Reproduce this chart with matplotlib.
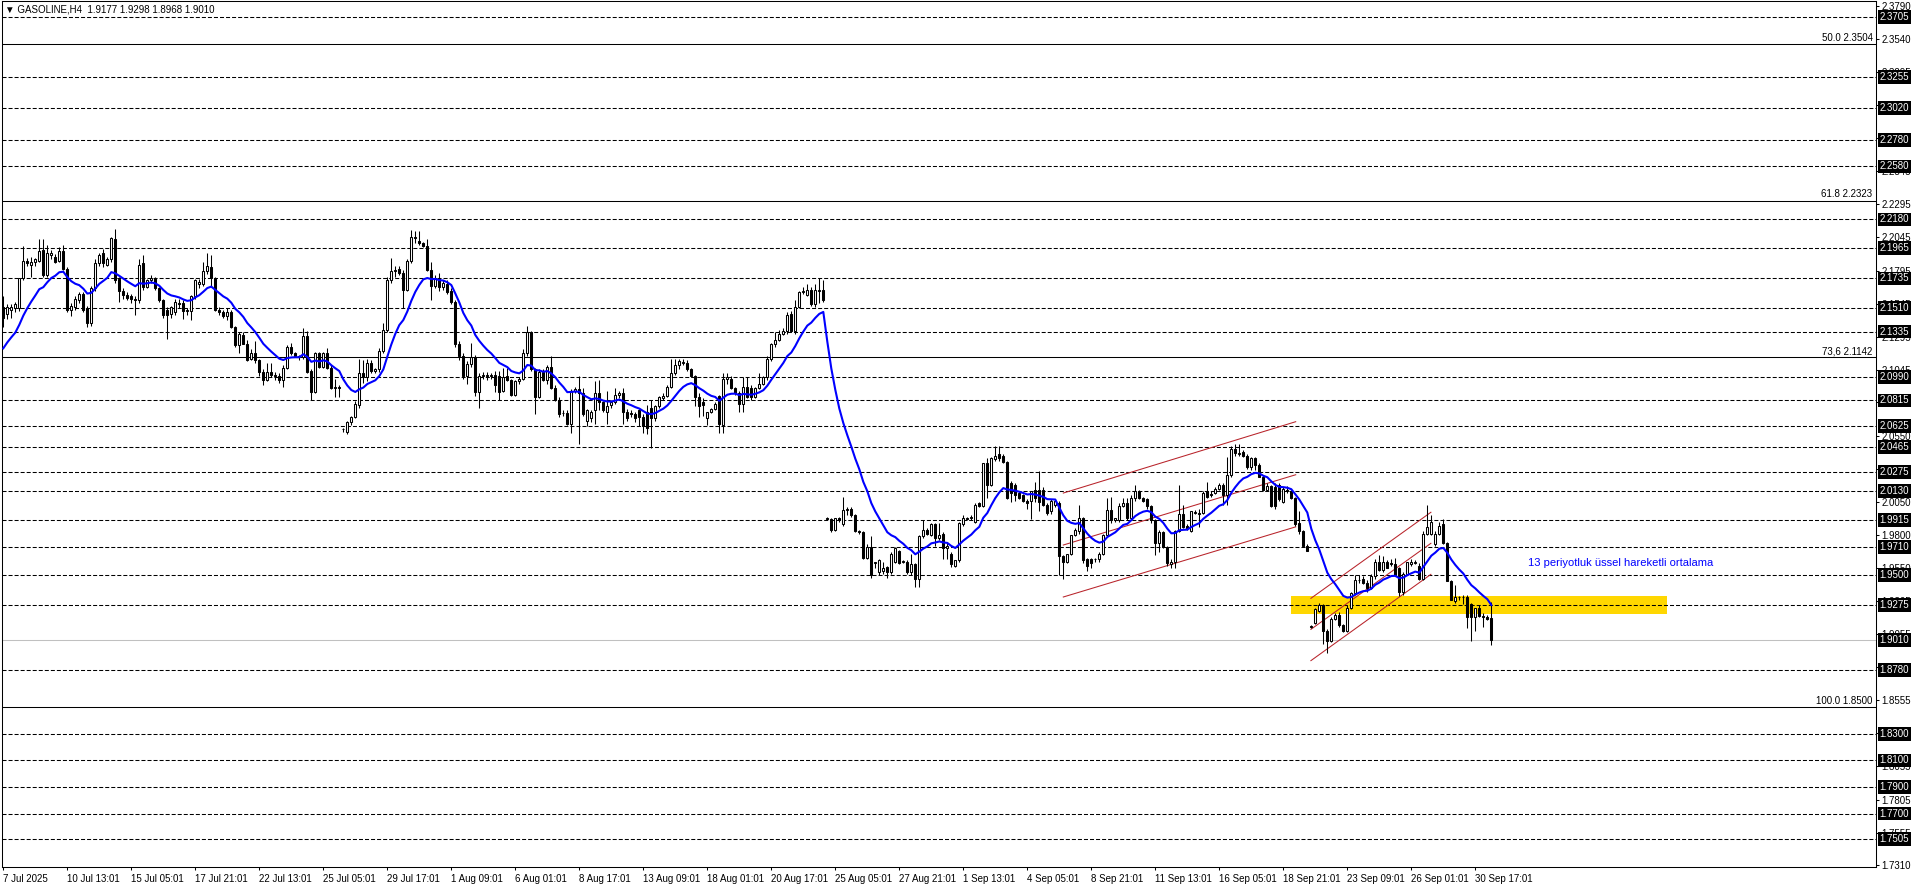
import numpy as np
import matplotlib
matplotlib.use('Agg')
import matplotlib.pyplot as plt
from matplotlib.patches import Rectangle

plt.rcParams['font.family'] = ['Liberation Sans', 'DejaVu Sans']
plt.rcParams['lines.scale_dashes'] = False

# ---------------- data (H4 candles, GASOLINE) ----------------
opens = [
 2.152, 2.147, 2.150, 2.151, 2.151, 2.174, 2.187, 2.184, 2.186, 2.187,
 2.195, 2.176, 2.191, 2.190, 2.187, 2.194, 2.181, 2.150, 2.152, 2.157,
 2.162, 2.151, 2.140, 2.166, 2.185, 2.193, 2.184, 2.188, 2.203, 2.173,
 2.164, 2.161, 2.160, 2.158, 2.157, 2.185, 2.167, 2.172, 2.174, 2.166,
 2.157, 2.150, 2.147, 2.148, 2.155, 2.155, 2.149, 2.149, 2.160, 2.169,
 2.169, 2.179, 2.182, 2.174, 2.150, 2.148, 2.145, 2.148, 2.137, 2.123,
 2.131, 2.124, 2.113, 2.117, 2.112, 2.103, 2.097, 2.103, 2.101, 2.100,
 2.097, 2.106, 2.122, 2.117, 2.115, 2.114, 2.130, 2.104, 2.088, 2.117,
 2.107, 2.117, 2.106, 2.091, 2.092, 2.060, 2.058, 2.065, 2.069, 2.078,
 2.102, 2.099, 2.110, 2.104, 2.105, 2.119, 2.135, 2.172, 2.179, 2.181,
 2.178, 2.165, 2.187, 2.205, 2.202, 2.200, 2.198, 2.180, 2.168, 2.174,
 2.167, 2.169, 2.164, 2.156, 2.124, 2.115, 2.100, 2.109, 2.114, 2.088,
 2.100, 2.101, 2.100, 2.101, 2.100, 2.089, 2.100, 2.097, 2.086, 2.096,
 2.098, 2.117, 2.133, 2.105, 2.084, 2.103, 2.097, 2.107, 2.091, 2.082,
 2.072, 2.072, 2.064, 2.089, 2.090, 2.087, 2.066, 2.068, 2.074, 2.087,
 2.080, 2.073, 2.078, 2.080, 2.086, 2.087, 2.073, 2.072, 2.071, 2.074,
 2.069, 2.073, 2.076, 2.068, 2.077, 2.083, 2.085, 2.092, 2.102, 2.108,
 2.110, 2.110, 2.105, 2.100, 2.084, 2.080, 2.068, 2.073, 2.075, 2.085,
 2.063, 2.098, 2.098, 2.091, 2.087, 2.079, 2.092, 2.091, 2.084, 2.091,
 2.094, 2.099, 2.113, 2.124, 2.127, 2.132, 2.134, 2.147, 2.134, 2.152,
 2.163, 2.161, 2.165, 2.154, 2.164, 2.165, 1.993, 1.992, 1.984, 1.993,
 1.988, 1.999, 2.000, 1.995, 1.983, 1.982, 1.963, 1.971, 1.959, 1.952,
 1.953, 1.956, 1.952, 1.960, 1.968, 1.960, 1.960, 1.952, 1.958, 1.947,
 1.979, 1.984, 1.980, 1.988, 1.978, 1.981, 1.970, 1.966, 1.957, 1.961,
 1.988, 1.993, 1.993, 1.990, 2.004, 2.002, 2.034, 2.018, 2.037, 2.041,
 2.040, 2.035, 2.019, 2.018, 2.012, 2.010, 2.006, 2.006, 2.014, 2.014,
 2.014, 2.003, 1.998, 2.003, 2.004, 1.964, 1.960, 1.966, 1.980, 1.983,
 1.993, 1.962, 1.962, 1.962, 1.962, 1.966, 1.980, 1.999, 1.991, 1.991,
 2.002, 2.004, 1.993, 2.008, 2.013, 2.008, 2.007, 2.002, 1.991, 1.974,
 1.982, 1.971, 1.958, 1.960, 1.983, 1.996, 1.987, 1.983, 1.997, 1.996,
 1.997, 2.013, 2.011, 2.012, 2.015, 2.018, 2.010, 2.025, 2.045, 2.041,
 2.043, 2.040, 2.031, 2.038, 2.033, 2.024, 2.014, 2.017, 2.016, 2.018,
 2.005, 2.014, 2.013, 2.008, 1.989, 1.983, 1.972, 1.911, 1.914, 1.923,
 1.927, 1.908, 1.900, 1.917, 1.920, 1.912, 1.908, 1.925, 1.936, 1.946,
 1.947, 1.944, 1.940, 1.949, 1.960, 1.954, 1.960, 1.959, 1.958, 1.955,
 1.937, 1.951, 1.958, 1.959, 1.957, 1.947, 1.981, 1.981, 1.973, 1.981,
 1.988, 1.974, 1.945, 1.930, 1.933, 1.933, 1.933, 1.928, 1.918, 1.925,
 1.919, 1.918, 1.9177]

highs = [
 2.160, 2.154, 2.154, 2.156, 2.174, 2.198, 2.189, 2.190, 2.189, 2.203,
 2.203, 2.199, 2.195, 2.192, 2.197, 2.199, 2.182, 2.155, 2.160, 2.163,
 2.163, 2.153, 2.168, 2.188, 2.193, 2.196, 2.190, 2.205, 2.211, 2.175,
 2.166, 2.163, 2.162, 2.160, 2.188, 2.191, 2.173, 2.176, 2.175, 2.167,
 2.158, 2.152, 2.153, 2.158, 2.158, 2.157, 2.151, 2.161, 2.173, 2.173,
 2.186, 2.193, 2.191, 2.175, 2.152, 2.150, 2.151, 2.150, 2.138, 2.133,
 2.133, 2.127, 2.120, 2.126, 2.113, 2.105, 2.110, 2.110, 2.103, 2.102,
 2.108, 2.123, 2.125, 2.118, 2.116, 2.136, 2.134, 2.105, 2.118, 2.118,
 2.118, 2.121, 2.108, 2.098, 2.093, 2.061, 2.066, 2.070, 2.081, 2.113,
 2.112, 2.113, 2.112, 2.106, 2.121, 2.140, 2.175, 2.189, 2.183, 2.183,
 2.180, 2.188, 2.210, 2.209, 2.209, 2.201, 2.203, 2.186, 2.176, 2.178,
 2.172, 2.172, 2.166, 2.157, 2.126, 2.117, 2.111, 2.125, 2.116, 2.102,
 2.103, 2.103, 2.102, 2.104, 2.104, 2.106, 2.106, 2.098, 2.097, 2.099,
 2.120, 2.138, 2.134, 2.106, 2.105, 2.105, 2.108, 2.115, 2.093, 2.084,
 2.074, 2.074, 2.090, 2.092, 2.100, 2.091, 2.075, 2.074, 2.096, 2.097,
 2.081, 2.089, 2.082, 2.091, 2.089, 2.091, 2.075, 2.074, 2.073, 2.075,
 2.071, 2.078, 2.082, 2.078, 2.085, 2.087, 2.093, 2.113, 2.113, 2.113,
 2.113, 2.112, 2.106, 2.101, 2.087, 2.083, 2.073, 2.076, 2.080, 2.086,
 2.102, 2.102, 2.100, 2.092, 2.089, 2.099, 2.099, 2.093, 2.092, 2.102,
 2.100, 2.115, 2.125, 2.133, 2.135, 2.136, 2.148, 2.149, 2.157, 2.164,
 2.167, 2.169, 2.167, 2.169, 2.174, 2.172, 1.994, 1.993, 1.993, 1.994,
 2.009, 2.001, 2.001, 1.996, 1.984, 1.983, 1.973, 1.979, 1.960, 1.962,
 1.960, 1.957, 1.967, 1.971, 1.969, 1.961, 1.961, 1.966, 1.959, 1.980,
 1.991, 1.985, 1.989, 1.989, 1.989, 1.982, 1.974, 1.967, 1.961, 1.990,
 1.995, 1.994, 1.995, 2.004, 2.005, 2.034, 2.038, 2.039, 2.047, 2.047,
 2.041, 2.036, 2.021, 2.019, 2.013, 2.011, 2.007, 2.013, 2.020, 2.028,
 2.016, 2.004, 2.007, 2.007, 2.006, 1.965, 1.966, 1.980, 1.985, 2.003,
 1.994, 1.963, 1.963, 1.963, 1.967, 1.981, 2.008, 2.009, 1.993, 2.004,
 2.008, 2.008, 2.010, 2.018, 2.014, 2.009, 2.008, 2.003, 1.992, 1.984,
 1.983, 1.972, 1.962, 1.984, 2.018, 2.003, 1.988, 1.998, 1.999, 2.000,
 2.013, 2.020, 2.013, 2.016, 2.019, 2.019, 2.039, 2.047, 2.049, 2.049,
 2.044, 2.041, 2.039, 2.039, 2.034, 2.025, 2.019, 2.018, 2.019, 2.019,
 2.016, 2.017, 2.014, 2.009, 1.998, 1.984, 1.973, 1.912, 1.925, 1.929,
 1.928, 1.909, 1.918, 1.921, 1.922, 1.913, 1.927, 1.937, 1.950, 1.950,
 1.949, 1.946, 1.951, 1.962, 1.965, 1.964, 1.961, 1.962, 1.963, 1.956,
 1.952, 1.960, 1.962, 1.961, 1.959, 1.983, 2.003, 1.995, 1.983, 1.990,
 1.992, 1.975, 1.946, 1.942, 1.934, 1.935, 1.935, 1.929, 1.925, 1.927,
 1.921, 1.920, 1.9298]

lows = [
 2.137, 2.143, 2.144, 2.148, 2.149, 2.172, 2.183, 2.175, 2.183, 2.186,
 2.175, 2.175, 2.188, 2.185, 2.186, 2.180, 2.148, 2.145, 2.150, 2.155,
 2.148, 2.137, 2.138, 2.164, 2.183, 2.182, 2.183, 2.186, 2.170, 2.156,
 2.158, 2.157, 2.155, 2.146, 2.155, 2.165, 2.166, 2.170, 2.165, 2.156,
 2.144, 2.128, 2.144, 2.146, 2.151, 2.143, 2.146, 2.142, 2.158, 2.166,
 2.168, 2.177, 2.167, 2.149, 2.146, 2.144, 2.142, 2.136, 2.122, 2.117,
 2.124, 2.111, 2.112, 2.110, 2.100, 2.093, 2.096, 2.099, 2.097, 2.095,
 2.092, 2.105, 2.116, 2.114, 2.112, 2.113, 2.102, 2.082, 2.087, 2.106,
 2.106, 2.105, 2.090, 2.084, 2.084, 2.058, 2.056, 2.063, 2.068, 2.076,
 2.095, 2.096, 2.102, 2.102, 2.103, 2.117, 2.133, 2.170, 2.175, 2.176,
 2.151, 2.164, 2.185, 2.200, 2.199, 2.197, 2.179, 2.157, 2.166, 2.164,
 2.165, 2.162, 2.154, 2.122, 2.112, 2.098, 2.094, 2.107, 2.085, 2.076,
 2.098, 2.097, 2.098, 2.088, 2.082, 2.088, 2.096, 2.085, 2.085, 2.094,
 2.097, 2.115, 2.104, 2.071, 2.083, 2.096, 2.094, 2.090, 2.081, 2.069,
 2.070, 2.063, 2.057, 2.087, 2.049, 2.070, 2.062, 2.065, 2.064, 2.074,
 2.073, 2.064, 2.076, 2.079, 2.083, 2.064, 2.066, 2.069, 2.065, 2.062,
 2.057, 2.056, 2.046, 2.066, 2.076, 2.082, 2.084, 2.091, 2.101, 2.105,
 2.108, 2.104, 2.099, 2.077, 2.069, 2.070, 2.063, 2.072, 2.074, 2.057,
 2.057, 2.094, 2.090, 2.086, 2.073, 2.073, 2.083, 2.082, 2.083, 2.090,
 2.093, 2.097, 2.111, 2.122, 2.126, 2.131, 2.132, 2.133, 2.132, 2.151,
 2.162, 2.160, 2.153, 2.152, 2.155, 2.156, 1.991, 1.982, 1.983, 1.990,
 1.987, 1.995, 1.994, 1.982, 1.981, 1.962, 1.962, 1.948, 1.955, 1.950,
 1.951, 1.948, 1.951, 1.959, 1.958, 1.959, 1.951, 1.950, 1.941, 1.941,
 1.978, 1.980, 1.979, 1.972, 1.976, 1.962, 1.962, 1.956, 1.956, 1.960,
 1.987, 1.991, 1.991, 1.989, 2.001, 2.001, 2.008, 2.017, 2.036, 2.036,
 2.034, 2.007, 2.005, 2.006, 2.007, 2.005, 2.000, 1.992, 2.005, 1.998,
 2.002, 1.995, 1.996, 2.001, 1.950, 1.947, 1.959, 1.965, 1.979, 1.981,
 1.959, 1.953, 1.955, 1.960, 1.960, 1.965, 1.979, 1.989, 1.990, 1.990,
 2.001, 1.991, 1.992, 2.006, 2.007, 2.005, 2.000, 1.989, 1.965, 1.967,
 1.970, 1.957, 1.955, 1.955, 1.982, 1.985, 1.984, 1.982, 1.996, 1.986,
 1.996, 2.008, 2.009, 2.011, 2.014, 2.003, 2.003, 2.024, 2.040, 2.040,
 2.039, 2.030, 2.029, 2.029, 2.024, 2.013, 2.013, 2.001, 2.000, 2.006,
 2.004, 2.012, 2.007, 1.987, 1.981, 1.971, 1.968, 1.910, 1.913, 1.922,
 1.898, 1.891, 1.899, 1.916, 1.911, 1.907, 1.907, 1.924, 1.935, 1.944,
 1.943, 1.937, 1.939, 1.947, 1.953, 1.952, 1.955, 1.957, 1.949, 1.934,
 1.935, 1.950, 1.957, 1.958, 1.946, 1.946, 1.980, 1.980, 1.972, 1.980,
 1.973, 1.945, 1.931, 1.929, 1.931, 1.928, 1.910, 1.900, 1.908, 1.918,
 1.911, 1.916, 1.8968]

closes = [
 2.144, 2.152, 2.152, 2.154, 2.174, 2.187, 2.185, 2.186, 2.188, 2.194,
 2.176, 2.193, 2.193, 2.186, 2.194, 2.181, 2.150, 2.153, 2.158, 2.162,
 2.150, 2.140, 2.166, 2.185, 2.191, 2.185, 2.188, 2.204, 2.172, 2.164,
 2.161, 2.159, 2.158, 2.157, 2.184, 2.167, 2.172, 2.174, 2.166, 2.157,
 2.146, 2.146, 2.152, 2.156, 2.154, 2.149, 2.150, 2.160, 2.172, 2.171,
 2.179, 2.183, 2.174, 2.150, 2.148, 2.145, 2.148, 2.137, 2.123, 2.132,
 2.124, 2.112, 2.117, 2.112, 2.103, 2.097, 2.103, 2.101, 2.100, 2.097,
 2.106, 2.122, 2.117, 2.115, 2.114, 2.130, 2.103, 2.088, 2.117, 2.107,
 2.117, 2.106, 2.091, 2.092, 2.091, 2.060, 2.065, 2.069, 2.079, 2.102,
 2.099, 2.110, 2.104, 2.105, 2.119, 2.135, 2.172, 2.179, 2.180, 2.178,
 2.165, 2.187, 2.205, 2.204, 2.200, 2.198, 2.180, 2.168, 2.174, 2.167,
 2.170, 2.163, 2.156, 2.124, 2.115, 2.100, 2.109, 2.114, 2.088, 2.100,
 2.101, 2.100, 2.101, 2.093, 2.088, 2.099, 2.097, 2.086, 2.096, 2.098,
 2.117, 2.133, 2.105, 2.084, 2.103, 2.097, 2.107, 2.091, 2.082, 2.071,
 2.072, 2.064, 2.089, 2.090, 2.087, 2.071, 2.074, 2.073, 2.087, 2.080,
 2.074, 2.077, 2.080, 2.086, 2.087, 2.073, 2.068, 2.071, 2.068, 2.069,
 2.062, 2.061, 2.068, 2.077, 2.084, 2.085, 2.092, 2.102, 2.108, 2.111,
 2.110, 2.105, 2.100, 2.084, 2.077, 2.078, 2.073, 2.075, 2.079, 2.064,
 2.098, 2.099, 2.091, 2.087, 2.079, 2.092, 2.084, 2.084, 2.091, 2.094,
 2.099, 2.113, 2.124, 2.127, 2.132, 2.134, 2.146, 2.134, 2.152, 2.163,
 2.164, 2.165, 2.154, 2.165, 2.165, 2.157, 1.992, 1.984, 1.993, 1.991,
 1.999, 2.000, 1.995, 1.983, 1.982, 1.963, 1.971, 1.950, 1.960, 1.961,
 1.955, 1.952, 1.966, 1.970, 1.959, 1.960, 1.952, 1.958, 1.947, 1.979,
 1.984, 1.981, 1.988, 1.978, 1.980, 1.970, 1.972, 1.958, 1.961, 1.989,
 1.993, 1.992, 1.994, 2.003, 2.002, 2.034, 2.018, 2.038, 2.040, 2.038,
 2.035, 2.008, 2.012, 2.010, 2.008, 2.006, 2.004, 2.013, 2.008, 2.005,
 2.003, 1.997, 2.006, 2.006, 1.964, 1.960, 1.966, 1.980, 1.984, 1.993,
 1.961, 1.957, 1.959, 1.962, 1.966, 1.980, 1.999, 1.991, 1.993, 2.002,
 2.004, 1.993, 2.008, 2.013, 2.008, 2.006, 2.002, 1.991, 1.974, 1.982,
 1.971, 1.959, 1.960, 1.983, 1.996, 1.986, 1.985, 1.998, 1.997, 1.997,
 2.012, 2.009, 2.010, 2.015, 2.018, 2.010, 2.025, 2.045, 2.042, 2.042,
 2.040, 2.031, 2.038, 2.033, 2.024, 2.014, 2.017, 2.002, 2.002, 2.007,
 2.015, 2.013, 2.008, 1.988, 1.983, 1.972, 1.968, 1.911, 1.924, 1.927,
 1.908, 1.900, 1.917, 1.920, 1.912, 1.908, 1.925, 1.936, 1.946, 1.946,
 1.944, 1.940, 1.949, 1.960, 1.954, 1.960, 1.955, 1.958, 1.950, 1.937,
 1.951, 1.960, 1.960, 1.960, 1.947, 1.981, 1.986, 1.990, 1.981, 1.987,
 1.974, 1.945, 1.931, 1.933, 1.933, 1.933, 1.918, 1.918, 1.925, 1.919,
 1.918, 1.917, 1.9010]

ema_period = 13
ema_seed = 2.117          # EMA value just before the first visible bar

x_label_bars = [0, 16, 32, 48, 64, 80, 96, 112, 128, 144, 160, 176, 192,
                208, 224, 240, 256, 272, 288, 304, 320, 336, 352, 368]
x_labels = ["7 Jul 2025", "10 Jul 13:01", "15 Jul 05:01", "17 Jul 21:01",
            "22 Jul 13:01", "25 Jul 05:01", "29 Jul 17:01", "1 Aug 09:01",
            "6 Aug 01:01", "8 Aug 17:01", "13 Aug 09:01", "18 Aug 01:01",
            "20 Aug 17:01", "25 Aug 05:01", "27 Aug 21:01", "1 Sep 13:01",
            "4 Sep 05:01", "8 Sep 21:01", "11 Sep 13:01", "16 Sep 05:01",
            "18 Sep 21:01", "23 Sep 09:01", "26 Sep 01:01", "30 Sep 17:01"]

y_ticks = [2.3790, 2.3540, 2.3295, 2.3045, 2.2795, 2.2545, 2.2295, 2.2045,
           2.1795, 2.1545, 2.1295, 2.1045, 2.0800, 2.0550, 2.0300, 2.0050,
           1.9800, 1.9550, 1.9305, 1.9055, 1.8805, 1.8555, 1.8305, 1.8055,
           1.7805, 1.7555, 1.7310]

h_levels = [2.3705, 2.3255, 2.3020, 2.2780, 2.2580, 2.2180, 2.1965, 2.1735,
            2.1510, 2.1335, 2.0990, 2.0815, 2.0625, 2.0465, 2.0275, 2.0130,
            1.9915, 1.9710, 1.9500, 1.9275, 1.8780, 1.8300, 1.8100, 1.7900,
            1.7700, 1.7505]

fib_levels = [2.3504, 2.2323, 2.1142, 1.8500]
fib_labels = ["50.0 2.3504", "61.8 2.2323", "73,6 2.1142", "100.0 1.8500"]

bid_price = 1.9010
title = "\u25BC GASOLINE,H4  1.9177 1.9298 1.8968 1.9010"

# trend channels: (bar_start, bar_end, price_start, price_end)
channel1 = [(265.0, 323.1, 2.0117, 2.0655),
            (265.0, 323.1, 1.9725, 2.0255),
            (265.0, 323.1, 1.9333, 1.9862)]
channel2 = [(326.9, 356.9, 1.9323, 1.9972),
            (326.9, 356.9, 1.9089, 1.9738),
            (326.9, 356.9, 1.8853, 1.9504)]

zone_bars = (321.9, 416.0)
zone_prices = (1.9208, 1.9341)

note_text = "13 periyotluk \u00fcssel hareketli ortalama"
note_pos = (381.2, 1.9590)

# ---------------- figure ----------------
W, H = 1916, 888
fig = plt.figure(figsize=(W / 100, H / 100), dpi=100)
fig.patch.set_facecolor('white')
L_px, R_px, T_px, B_px = 2, 1876, 1, 867
ax = fig.add_axes([L_px / W, (H - B_px) / H, (R_px - L_px) / W, (B_px - T_px) / H])
ax.set_facecolor('white')

px_per_bar = 4.0
ax.set_xlim(-0.325, -0.325 + (R_px - L_px) / px_per_bar)
ax.set_ylim(1.72968, 2.38277)

o = np.array(opens); h = np.array(highs); l = np.array(lows); c = np.array(closes)
n = len(c)
idx = np.arange(n)

# yellow zone
ax.add_patch(Rectangle((zone_bars[0], zone_prices[0]), zone_bars[1] - zone_bars[0],
                       zone_prices[1] - zone_prices[0], facecolor='#FFD700',
                       edgecolor='none', zorder=1))

# horizontal lines
for lv in h_levels:
    ax.axhline(lv, color='black', lw=0.75, ls=(0, (2.9, 1.45)), zorder=2)
for lv in fib_levels:
    ax.axhline(lv, color='black', lw=0.75, zorder=2)
ax.axhline(bid_price, color='#C0C0C0', lw=0.75, zorder=1.5)

# channels
for seg in channel1 + channel2:
    ax.plot([seg[0], seg[1]], [seg[2], seg[3]], color='#B8232A', lw=0.75, zorder=3)

# candles
ax.vlines(idx, l, h, color='black', lw=0.75, zorder=4)
up = c >= o
bb = np.minimum(o, c)
bh = np.maximum(np.abs(c - o), 0.00025)
ax.bar(idx[up], bh[up], bottom=bb[up], width=0.5, color='white',
       edgecolor='black', linewidth=0.75, zorder=5)
ax.bar(idx[~up], bh[~up], bottom=bb[~up], width=0.5, color='black',
       edgecolor='black', linewidth=0.75, zorder=5)

# EMA 13
alpha = 2.0 / (ema_period + 1)
ema = []
prev = ema_seed
for v in c:
    prev = prev + alpha * (v - prev)
    ema.append(prev)
ax.plot(idx, ema, color='#0000FF', lw=1.5, zorder=6)

# annotation text
ax.text(note_pos[0], note_pos[1], note_text, color='#0000FF', fontsize=8,
        ha='left', va='center', zorder=7)

# fib labels
for lv, lab in zip(fib_levels, fib_labels):
    ax.annotate(lab, xy=(1, lv), xycoords=('axes fraction', 'data'),
                xytext=(-2.5, 0.8), textcoords='offset points', ha='right',
                va='bottom', fontsize=7, color='black', zorder=8)

# axes styling
for sp in ax.spines.values():
    sp.set_color('black'); sp.set_linewidth(0.75)
ax.yaxis.tick_right()
ax.set_yticks(y_ticks)
ax.set_yticklabels([f"{t:.4f}" for t in y_ticks])
ax.tick_params(axis='y', direction='out', length=2.5, width=0.75, pad=1.2,
               labelsize=7, colors='black')
ax.set_xticks(x_label_bars)
ax.set_xticklabels(x_labels)
ax.tick_params(axis='x', direction='out', length=2.5, width=0.75, pad=2.5,
               labelsize=7, colors='black')
for lab in ax.get_xticklabels():
    lab.set_ha('left')

# boxed price labels on right axis
for lv in h_levels + [bid_price]:
    ax.annotate(f"{lv:.4f}", xy=(1, lv), xycoords=('axes fraction', 'data'),
                xytext=(2.6, 0), textcoords='offset points', ha='left',
                va='center', fontsize=7, color='white',
                bbox=dict(boxstyle='square,pad=0.2', fc='black', ec='none'),
                annotation_clip=False, zorder=10)

fig.text(5 / W, 1 - 10 / H, title, fontsize=7, color='black', ha='left', va='center')

fig.savefig('out.png', dpi=100, facecolor='white')
